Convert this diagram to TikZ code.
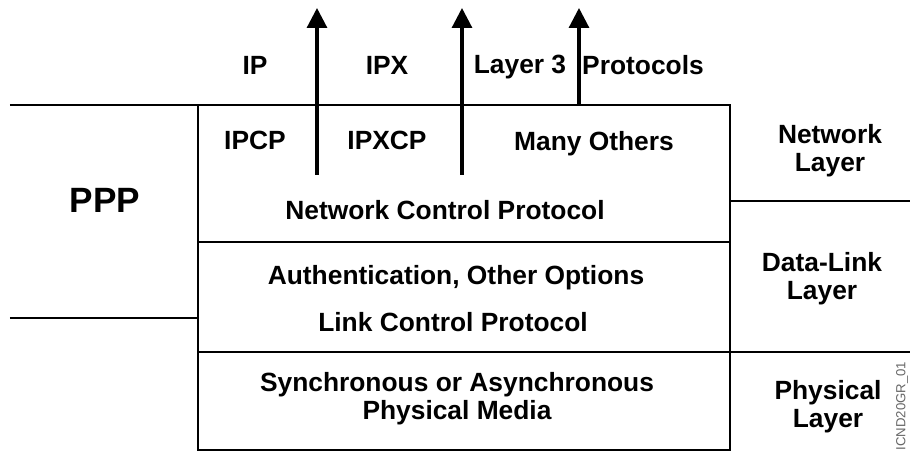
\documentclass[tikz,border=0pt]{standalone}
\usepackage{fontspec}
\setmainfont{Liberation Sans}
\usetikzlibrary{arrows.meta,positioning}

\begin{document}
\begin{tikzpicture}[>={Triangle[length=0.4cm,width=0.4cm]},font=\bfseries\fontsize{15}{16}\selectfont]
\tikzstyle{ln}=[line width=1.5pt]
\tikzstyle{lbl}=[align=center,inner sep=0pt]
\useasboundingbox (0,0) rectangle (18.2,-9.04);
% layer box
\draw[ln] (0.2,-2.1) -- (14.6,-2.1) -- (14.6,-9.0) -- (3.96,-9.0) -- (3.96,-2.1);
\draw[ln] (3.96,-4.84) -- (14.6,-4.84);
\draw[ln] (3.96,-7.04) -- (18.2,-7.04);
\draw[ln] (0.2,-6.36) -- (3.96,-6.36);
\draw[ln] (14.6,-4.02) -- (18.2,-4.02);
% arrows to upper protocols
\coordinate (a1) at (6.34,-3.5);
\coordinate (a2) at (9.24,-3.5);
\coordinate (a3) at (11.58,-2.1);
\draw[ln,line width=1.8pt,->] (a1) -- ++(0,3.34);
\draw[ln,line width=1.8pt,->] (a2) -- ++(0,3.34);
\draw[ln,line width=1.8pt,->] (a3) -- ++(0,1.94);
\node[lbl] (ip) at (5.1,-1.3) {IP};
\node[lbl] (ipx) at (7.74,-1.3) {IPX};
\node[lbl] (l3) at (10.4,-1.35) {Layer 3};
\node[lbl] (prot) at (12.86,-1.3) {Protocols};
\node[lbl] (ipcp) at (5.1,-2.8) {IPCP};
\node[lbl] (ipxcp) at (7.74,-2.8) {IPXCP};
\node[lbl] (many) at (11.88,-2.88) {Many Others};
\node[lbl] (ncp) at (8.9,-4.2) {Network Control Protocol};
\node[lbl] (auth) at (9.12,-5.56) {Authentication, Other Options};
\node[lbl] (lcp) at (9.06,-6.44) {Link Control Protocol};
\node[lbl] (media) at (9.14,-7.98) {Synchronous or Asynchronous\\ Physical Media};
\node[lbl,font=\bfseries\fontsize{20}{22}\selectfont] (ppp) at (2.1,-4.0) {PPP};
% OSI layers
\node[lbl] (net) at (16.6,-3.02) {Network\\ Layer};
\node[lbl] (dl) at (16.44,-5.58) {Data-Link\\ Layer};
\node[lbl] (phy) at (16.56,-8.13) {Physical\\ Layer};
\node[lbl,font=\fontsize{7.5}{8}\selectfont,text=black!60,rotate=90] (id) at (18.04,-8.12) {ICND20GR\_01};
\end{tikzpicture}
\end{document}
